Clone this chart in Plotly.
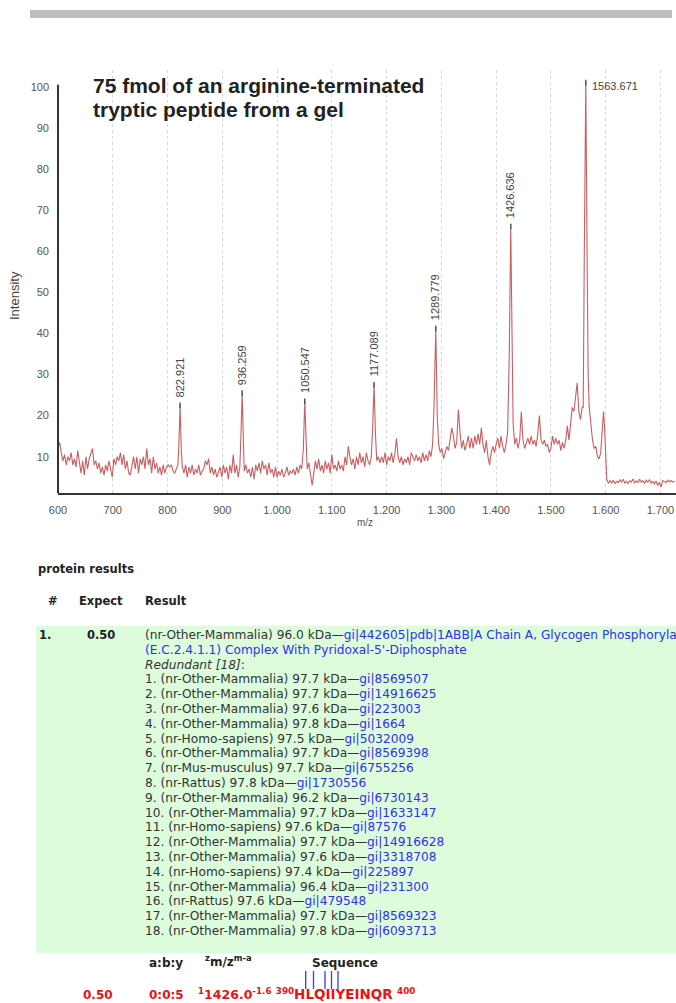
import plotly.graph_objects as go

# ---------------- data ----------------
mz = [600, 603, 606, 609, 612, 615, 618, 621, 624, 627, 630, 633, 636, 639, 642, 645, 648, 651, 654, 657,
      660, 663, 666, 669, 672, 675, 678, 681, 684, 687, 690, 693, 696, 699, 702, 705, 708, 711, 714, 717,
      720, 723, 726, 729, 732, 735, 738, 741, 744, 747, 750, 753, 756, 759, 762, 765, 768, 771, 774, 777,
      780, 783, 786, 789, 792, 795, 798, 801, 804, 807, 810, 813, 816, 819, 821, 822.921, 825, 827, 830, 833,
      836, 839, 842, 845, 848, 851, 854, 857, 860, 863, 866, 869, 872, 875, 878, 881, 884, 887, 890, 893,
      896, 899, 902, 905, 908, 911, 914, 917, 920, 923, 926, 929, 932, 934, 936.259, 938.5, 940, 943, 946, 949,
      952, 955, 958, 961, 964, 967, 970, 973, 976, 979, 982, 985, 988, 991, 994, 997, 1000, 1003, 1006, 1009,
      1012, 1015, 1018, 1021, 1024, 1027, 1030, 1033, 1036, 1039, 1042, 1045, 1048, 1050.547, 1053, 1055, 1058, 1061, 1064, 1067,
      1070, 1073, 1076, 1079, 1082, 1085, 1088, 1091, 1094, 1097, 1100, 1103, 1106, 1109, 1112, 1115, 1118, 1121, 1124, 1127,
      1130, 1133, 1136, 1139, 1142, 1145, 1148, 1151, 1154, 1157, 1160, 1163, 1166, 1169, 1172, 1174.5, 1177.089, 1179.5, 1182, 1185,
      1188, 1191, 1194, 1197, 1200, 1203, 1206, 1209, 1212, 1215, 1218, 1221, 1224, 1227, 1230, 1233, 1236, 1239, 1242, 1245,
      1248, 1251, 1254, 1257, 1260, 1263, 1266, 1269, 1272, 1275, 1278, 1281, 1284, 1286.5, 1289.779, 1292.5, 1295, 1298, 1301, 1304,
      1307, 1310, 1313, 1316, 1319, 1322, 1325, 1328, 1331, 1334, 1337, 1340, 1343, 1346, 1349, 1352, 1355, 1358, 1361, 1364,
      1367, 1370, 1373, 1376, 1379, 1382, 1385, 1388, 1391, 1394, 1397, 1400, 1403, 1406, 1409, 1412, 1415, 1418, 1421, 1424,
      1426.636, 1429, 1431, 1434, 1437, 1440, 1443, 1446, 1449, 1452, 1455, 1458, 1461, 1464, 1467, 1470, 1473, 1476, 1479, 1482,
      1485, 1488, 1491, 1494, 1497, 1500, 1503, 1506, 1509, 1512, 1515, 1518, 1521, 1524, 1527, 1530, 1533, 1536, 1539, 1542,
      1545, 1548, 1551, 1554, 1557, 1559, 1561, 1563.671, 1566, 1568, 1570, 1573, 1576, 1579, 1582, 1585, 1588, 1591, 1594, 1596,
      1598, 1600, 1602, 1605, 1608, 1611, 1614, 1617, 1620, 1623, 1626, 1629, 1632, 1635, 1638, 1641, 1644, 1647, 1650, 1653,
      1656, 1659, 1662, 1665, 1668, 1671, 1674, 1677, 1680, 1683, 1686, 1689, 1692, 1695, 1698, 1701, 1704, 1707, 1710, 1713,
      1716, 1719, 1722, 1726]
intensity = [12, 13.5, 11, 9, 10.5, 8, 10, 9, 11, 8, 9.5, 7.5, 11.5, 8, 6, 9, 5.5, 10, 7, 9.5,
             11, 12, 8, 9, 7, 8.5, 6, 7.5, 5.5, 8, 6.5, 9, 7, 5, 9.5, 8, 10, 9, 11, 8,
             10.5, 7, 9, 6, 5.5, 8, 10, 7, 10, 6, 9.5, 8, 10, 7, 12, 8, 9.5, 6, 10, 7,
             8.5, 6, 7.5, 5.5, 8, 6, 7.5, 8, 7.5, 8, 6.5, 6, 7, 8, 14, 22.5, 12, 7.5, 6, 8,
             5, 7.5, 6, 8, 5.5, 7, 6, 8, 5.5, 6.5, 7, 9, 8, 9.5, 6, 7.5, 5.5, 7, 5, 6.5,
             7.5, 5, 8, 6, 7.5, 4.5, 8, 6, 10.5, 6, 8, 5, 7.5, 15, 25.5, 14, 6.5, 8, 6, 7,
             5, 7.5, 4.5, 8, 6.5, 8.5, 6, 9, 7, 8, 5.5, 8.5, 6, 7, 5, 7.5, 5, 6.5, 5.5, 7,
             5, 6, 7.5, 5.5, 6.5, 6, 7, 5.5, 7.5, 6, 8, 7, 12, 23.5, 12, 7, 8.5, 5, 3, 6,
             9, 7, 9.5, 6.5, 8, 6, 9, 7, 8.5, 6, 10.5, 7, 8, 6.5, 9, 7, 8, 6.5, 10, 8,
             12.5, 10, 8, 9.5, 7, 10, 8, 11, 8.5, 10, 7.5, 11, 9, 8, 10, 17, 27.5, 16, 9, 10,
             8.5, 10, 8.5, 11, 8, 10, 9, 11, 8.5, 10.5, 14.5, 10, 8.5, 10, 8, 9.5, 8.5, 10, 8, 11,
             10, 9, 10.5, 9, 10, 8.5, 11, 9, 10.5, 9, 11.5, 10, 13, 22, 41.2, 20, 13, 11, 12, 9.5,
             11, 12.5, 11.5, 14, 17, 15, 12, 13.5, 21.5, 16, 12, 14, 11.5, 13, 15, 12, 14.5, 12, 15, 13,
             15.5, 13, 17, 13, 11, 14, 10, 8, 11, 12.5, 11, 13, 14.5, 12, 15, 12.5, 11, 13, 16, 35,
             66, 40, 18, 13, 14.5, 12, 14, 21, 14, 12, 13, 14.5, 13, 15, 13, 14, 12.5, 15.5, 20, 14,
             13, 14, 12.5, 13, 11, 12, 15, 13, 14.5, 13, 14, 11.5, 13.5, 12, 14, 17.5, 14, 18, 22, 21,
             25, 28, 21, 19, 22, 22, 60, 101, 60, 30, 22, 17, 14, 12, 12.5, 10, 9.5, 11, 18, 21,
             17, 10, 4.5, 3.5, 4.2, 3.6, 4.3, 3.5, 4, 3.7, 4.4, 3.8, 4.5, 3.6, 4, 3.5, 4.2, 3.8, 4.6, 3.6,
             4.1, 3.7, 4.5, 3.8, 4.2, 3.5, 4.3, 3.8, 4.4, 3.6, 4, 3.4, 4.1, 3, 3.8, 2.6, 4.2, 4, 3.7, 4.3,
             3.9, 4.2, 3.8, 4.1]

peak_mz = [822.921, 936.259, 1050.547, 1177.089, 1289.779, 1426.636, 1563.671]
peak_int = [22.5, 25.5, 23.5, 27.5, 41.2, 66, 101]

x_tick_vals = [600, 700, 800, 900, 1000, 1100, 1200, 1300, 1400, 1500, 1600, 1700]
x_tick_text = ["600", "700", "800", "900", "1.000", "1.100", "1.200", "1.300", "1.400", "1.500", "1.600", "1.700"]
y_tick_vals = [10, 20, 30, 40, 50, 60, 70, 80, 90, 100]

title_lines = ["75 fmol of an arginine-terminated", "tryptic peptide from a gel"]

hit_rank = "1."
hit_expect = "0.50"
hit_species = "nr-Other-Mammalia"
hit_kda = 96.0
hit_link_1 = "gi|442605|pdb|1ABB|A Chain A, Glycogen Phosphorylase B"
hit_link_2 = "(E.C.2.4.1.1) Complex With Pyridoxal-5'-Diphosphate"
redundant_species = ["nr-Other-Mammalia", "nr-Other-Mammalia", "nr-Other-Mammalia", "nr-Other-Mammalia",
                     "nr-Homo-sapiens", "nr-Other-Mammalia", "nr-Mus-musculus", "nr-Rattus",
                     "nr-Other-Mammalia", "nr-Other-Mammalia", "nr-Homo-sapiens", "nr-Other-Mammalia",
                     "nr-Other-Mammalia", "nr-Homo-sapiens", "nr-Other-Mammalia", "nr-Rattus",
                     "nr-Other-Mammalia", "nr-Other-Mammalia"]
redundant_kda = [97.7, 97.7, 97.6, 97.8, 97.5, 97.7, 97.7, 97.8, 96.2, 97.7, 97.6, 97.7, 97.6, 97.4, 96.4, 97.6, 97.7, 97.8]
redundant_gi = [8569507, 14916625, 223003, 1664, 5032009, 8569398, 6755256, 1730556, 6730143,
                1633147, 87576, 14916628, 3318708, 225897, 231300, 479548, 8569323, 6093713]

pep_expect = "0.50"
pep_abY = "0:0:5"
pep_charge = "1"
pep_mz = "1426.0"
pep_delta = "-1.6"
pep_start = "390"
pep_seq = "HLQIIYEINQR"
pep_end = "400"

# ---------------- layout helpers ----------------
W, H = 676, 1003
def px(x):
    return x / W
def py(y):
    return 1 - y / H

LINE = "#c95f61"
TXT = "#333333"
BLUE = "#3030ee"
RED = "#ee1111"
SANS = "DejaVu Sans"
ARIAL = "Liberation Sans"

fig = go.Figure()

fig.add_trace(go.Scatter(x=mz, y=intensity, mode="lines",
                         line=dict(color=LINE, width=1.1), hoverinfo="skip", showlegend=False))
fig.add_trace(go.Scatter(x=peak_mz, y=peak_int, mode="markers",
                         marker=dict(symbol="line-ns", size=4, line=dict(color="#555555", width=1.5)),
                         hoverinfo="skip", showlegend=False))

ann = []
# peak labels
for m, v in zip(peak_mz, peak_int):
    if m == max(peak_mz):
        ann.append(dict(x=m, y=v, xref="x", yref="y", text=f"{m:.3f}", showarrow=False,
                        xanchor="left", yanchor="middle", xshift=4, yshift=-3,
                        font=dict(family=ARIAL, size=11, color="#444444")))
    else:
        ann.append(dict(x=m, y=v, xref="x", yref="y", text=f"{m:.3f}", showarrow=False,
                        textangle=-90, xanchor="center", yanchor="bottom", yshift=6,
                        font=dict(family=ARIAL, size=11, color="#444444")))

# title inside chart
ann.append(dict(x=px(91), y=py(86), xref="paper", yref="paper", text=f"<b>{title_lines[0]}</b>",
                showarrow=False, xanchor="left", yanchor="middle",
                font=dict(family=ARIAL, size=21, color="#222222")))
ann.append(dict(x=px(91), y=py(109), xref="paper", yref="paper", text=f"<b>{title_lines[1]}</b>",
                showarrow=False, xanchor="left", yanchor="middle",
                font=dict(family=ARIAL, size=21, color="#222222")))

# axis titles
ann.append(dict(x=px(15), y=py(296), xref="paper", yref="paper", text="Intensity", textangle=-90,
                showarrow=False, xanchor="center", yanchor="middle",
                font=dict(family=ARIAL, size=13, color="#444444")))
ann.append(dict(x=px(365), y=py(522), xref="paper", yref="paper", text="m/z",
                showarrow=False, xanchor="center", yanchor="middle",
                font=dict(family=ARIAL, size=10, color="#555555")))

# table
def T(x, y, text, size=12.2, color=TXT, anchor="left"):
    ann.append(dict(x=px(x), y=py(y), xref="paper", yref="paper", text=text, showarrow=False,
                    xanchor=anchor, yanchor="middle", align="left",
                    font=dict(family=SANS, size=size, color=color)))

T(36, 569, "<b>protein results</b>", size=11.5, color="#222222")
T(46, 601, "<b>#</b>", size=11.5, color="#222222")
T(77, 601, "<b>Expect</b>", size=11.5, color="#222222")
T(143, 601, "<b>Result</b>", size=11.5, color="#222222")

y0 = 635
dy = 14.8
T(37, y0, f"<b>{hit_rank}</b>", size=11.5, color="#222222")
T(85, y0, f"<b>{hit_expect}</b>", size=11.5, color="#222222")
T(143, y0, f"({hit_species}) {hit_kda:.1f} kDa—<span style='color:{BLUE}'>{hit_link_1}</span>")
T(143, y0 + dy, f"<span style='color:{BLUE}'>{hit_link_2}</span>")
T(143, y0 + 2 * dy, f"<i>Redundant [{len(redundant_gi)}]</i>:")
for i, (sp, k, g) in enumerate(zip(redundant_species, redundant_kda, redundant_gi)):
    T(143, y0 + (3 + i) * dy,
      f"{i + 1}. ({sp}) {k:.1f} kDa—<span style='color:{BLUE}'>gi|{g}</span>")

# peptide header
T(147, 963, "<b>a:b:y</b>", size=12, color="#222222")
T(203, 961, "<b><sup>z</sup>m/z<sup>m-a</sup></b>", size=12, color="#222222")
T(310, 963, "<b>Sequence</b>", size=12, color="#222222")

# peptide row
T(81, 995, f"<b>{pep_expect}</b>", size=12, color=RED)
T(147, 995, f"<b>{pep_abY}</b>", size=12, color=RED)
T(196, 994, f"<b><sup>{pep_charge}</sup>{pep_mz}<sup>{pep_delta}</sup> <sup>{pep_start}</sup>"
            f"<span style='font-size:13.5px'>{pep_seq}</span> <sup>{pep_end}</sup></b>", size=12.5, color=RED)

shapes = []
# top gray bar
shapes.append(dict(type="rect", xref="paper", yref="paper", x0=px(30), x1=px(672), y0=py(18), y1=py(10),
                   fillcolor="#bcbdc1", line=dict(width=0), layer="below"))
# green result box
shapes.append(dict(type="rect", xref="paper", yref="paper", x0=px(36), x1=1, y0=py(953), y1=py(626),
                   fillcolor="#dcfcdc", line=dict(width=0), layer="below"))
# y axis line (from baseline to 100 level)
shapes.append(dict(type="line", xref="x domain", yref="y", x0=0, x1=0, y0=1.17, y1=100.5,
                   line=dict(color="#333333", width=2)))
# fragment markers above sequence
for xm in [305.7, 313.5, 325, 331.5, 338]:
    shapes.append(dict(type="line", xref="paper", yref="paper", x0=px(xm), x1=px(xm), y0=py(989), y1=py(971),
                       line=dict(color="#3a3af0", width=1.3)))

fig.update_layout(
    width=W, height=H, autosize=False,
    margin=dict(l=0, r=0, t=0, b=0, pad=0, autoexpand=False),
    paper_bgcolor="white", plot_bgcolor="white",
    showlegend=False,
    annotations=ann, shapes=shapes,
    xaxis=dict(domain=[px(58), 1], range=[600, 1728.4], automargin=False,
               tickvals=x_tick_vals, ticktext=x_tick_text,
               showgrid=True, gridcolor="#d8d8d8", griddash="dot", gridwidth=1,
               showline=True, linecolor="#333333", linewidth=2,
               ticks="", ticklabelstandoff=6, zeroline=False,
               tickfont=dict(family=ARIAL, size=11, color="#555555")),
    yaxis=dict(domain=[py(493), py(70)], range=[1.17, 104.06], automargin=False,
               tickvals=y_tick_vals, showgrid=False, showline=False, zeroline=False,
               ticks="", ticklabelstandoff=8,
               tickfont=dict(family=ARIAL, size=11, color="#555555")),
)

fig.write_html("out.html", config={"displayModeBar": False},
               post_script="document.body.style.margin='0';document.body.style.overflow='hidden';")
